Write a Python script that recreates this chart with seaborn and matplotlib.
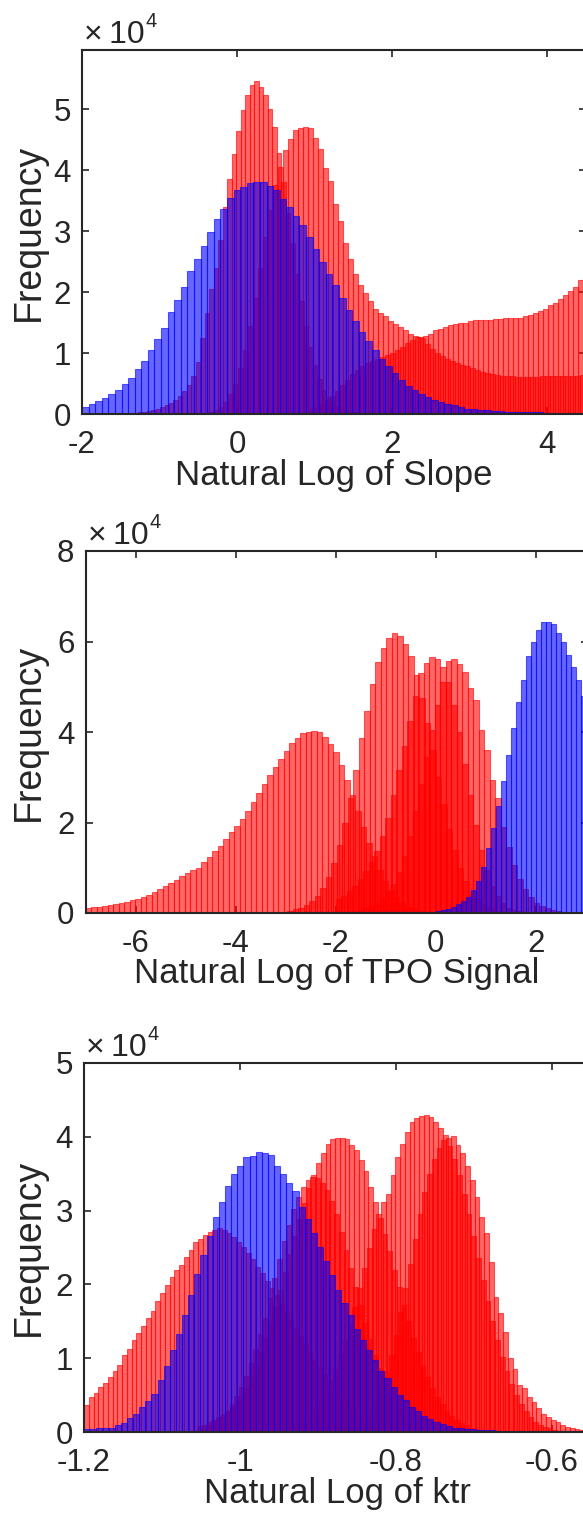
import numpy as np
import pandas as pd
import matplotlib
matplotlib.use("Agg")
import matplotlib.pyplot as plt
import matplotlib.transforms as mtransforms
from matplotlib.colors import to_rgba
import seaborn as sns

# ---------------- data: histogram counts in units of 10^4 ----------------
# Panel 1 : natural log of slope
SLOPE_BLUE_BINS = (-2.0, 0.085)          # (first edge, bin width)
SLOPE_BLUE = [0.11, 0.17, 0.21, 0.26, 0.32, 0.40, 0.49, 0.59, 0.73, 0.87,
              1.05, 1.23, 1.41, 1.67, 1.87, 2.08, 2.34, 2.55, 2.76, 2.98,
              3.20, 3.36, 3.54, 3.68, 3.72, 3.79, 3.80, 3.80, 3.74, 3.67,
              3.53, 3.40, 3.24, 3.10, 2.90, 2.70, 2.50, 2.30, 2.11, 1.90,
              1.71, 1.52, 1.34, 1.20, 1.05, 0.91, 0.79, 0.67, 0.56, 0.46,
              0.40, 0.33, 0.28, 0.23, 0.20, 0.16, 0.14, 0.11, 0.09, 0.08,
              0.07, 0.06, 0.05, 0.05, 0.04, 0.04, 0.03, 0.03, 0.03, 0.03,
              0.02, 0.02, 0.02, 0.02, 0.02, 0.02, 0.02]
SLOPE_RED_A_BINS = (-1.4, 0.058)
SLOPE_RED_A = [0.01, 0.02, 0.03, 0.04, 0.05, 0.07, 0.09, 0.11, 0.14, 0.18,
               0.23, 0.29, 0.37, 0.48, 0.62, 0.85, 1.25, 1.65, 2.05, 2.40,
               2.85, 3.40, 3.85, 4.27, 4.64, 4.99, 5.24, 5.39, 5.46, 5.36,
               5.24, 5.01, 4.71, 4.28, 3.80, 3.30, 2.80, 2.30, 1.85, 1.45,
               1.10, 0.80, 0.58, 0.40, 0.28, 0.19, 0.13, 0.09, 0.06, 0.04,
               0.03, 0.02, 0.02, 0.01, 0.01]
SLOPE_RED_B_BINS = (-0.5, 0.0645)
SLOPE_RED_B = [0.01, 0.02, 0.04, 0.07, 0.12, 0.20, 0.32, 0.50, 0.75, 1.05,
               1.45, 1.90, 2.40, 2.90, 3.35, 3.75, 4.05, 4.33, 4.51, 4.66,
               4.69, 4.70, 4.69, 4.52, 4.34, 4.04, 3.82, 3.45, 3.16, 2.81,
               2.54, 2.30, 2.12, 1.98, 1.85, 1.73, 1.65, 1.60, 1.52, 1.47,
               1.42, 1.38, 1.32, 1.28, 1.26, 1.28, 1.32, 1.37, 1.39, 1.43,
               1.46, 1.47, 1.49, 1.50, 1.52, 1.54, 1.54, 1.54, 1.54, 1.55,
               1.56, 1.58, 1.58, 1.58, 1.58, 1.60, 1.62, 1.65, 1.69, 1.73,
               1.78, 1.82, 1.89, 1.95, 2.02, 2.09, 2.20, 2.25]
SLOPE_RED_C_BINS = (0.87, 0.0645)
SLOPE_RED_C = [0.05, 0.08, 0.12, 0.17, 0.23, 0.30, 0.38, 0.47, 0.56, 0.65,
               0.72, 0.78, 0.83, 0.87, 0.90, 0.93, 0.96, 1.00, 1.05, 1.10,
               1.16, 1.22, 1.26, 1.24, 1.15, 1.06, 1.00, 0.95, 0.91, 0.87,
               0.83, 0.80, 0.78, 0.75, 0.72, 0.69, 0.68, 0.66, 0.64, 0.62,
               0.62, 0.62, 0.61, 0.61, 0.61, 0.61, 0.61, 0.62, 0.62, 0.62,
               0.62, 0.62, 0.62, 0.62, 0.63, 0.64, 0.67, 0.70]

# Panel 2 : natural log of TPO signal
TPO_RED_1_BINS = (-7.0, 0.11)
TPO_RED_1 = [0.12, 0.13, 0.14, 0.16, 0.18, 0.20, 0.22, 0.25, 0.28, 0.31,
             0.35, 0.40, 0.46, 0.52, 0.59, 0.66, 0.74, 0.81, 0.88, 0.94,
             1.00, 1.13, 1.24, 1.37, 1.48, 1.63, 1.79, 1.93, 2.08, 2.26,
             2.46, 2.66, 2.84, 3.04, 3.22, 3.41, 3.59, 3.76, 3.87, 3.98,
             4.00, 4.03, 4.00, 3.88, 3.73, 3.55, 3.26, 2.93, 2.60, 2.25,
             1.90, 1.55, 1.25, 0.95, 0.70, 0.50, 0.35, 0.24, 0.16, 0.10,
             0.07, 0.05, 0.03, 0.02, 0.01]
TPO_RED_2_BINS = (-2.97, 0.11)
TPO_RED_2 = [0.05, 0.08, 0.12, 0.18, 0.26, 0.38, 0.55, 0.80, 1.10, 1.50,
             2.00, 2.55, 3.16, 3.86, 4.47, 5.05, 5.54, 5.86, 6.07, 6.18,
             6.12, 5.94, 5.67, 5.26, 4.75, 4.20, 3.60, 3.00, 2.40, 1.85,
             1.40, 1.00, 0.70, 0.47, 0.31, 0.20, 0.13, 0.08, 0.05, 0.03,
             0.02]
TPO_RED_3_BINS = (-2.0, 0.11)
TPO_RED_3 = [0.30, 0.38, 0.48, 0.60, 0.75, 0.92, 1.12, 1.38, 1.70, 2.10,
             2.60, 3.15, 3.70, 4.25, 4.80, 5.30, 5.52, 5.66, 5.61, 5.44,
             5.10, 4.60, 4.00, 3.30, 2.60, 1.95, 1.40, 0.95, 0.60, 0.37,
             0.22, 0.12, 0.07, 0.04, 0.02]
TPO_RED_4_BINS = (-1.67, 0.11)
TPO_RED_4 = [0.05, 0.07, 0.10, 0.15, 0.22, 0.32, 0.46, 0.65, 0.90, 1.25,
             1.70, 2.25, 2.85, 3.45, 4.05, 4.60, 5.10, 5.57, 5.61, 5.50,
             5.33, 4.97, 4.70, 4.04, 3.60, 2.94, 2.54, 1.90, 1.45, 1.05,
             0.75, 0.52, 0.35, 0.23, 0.15, 0.10, 0.06, 0.04, 0.02, 0.01]
TPO_BLUE_BINS = (-7.0, 0.1)
TPO_BLUE = [0.01, 0.01, 0.01, 0.01, 0.01, 0.01, 0.01, 0.01, 0.01, 0.01,
            0.01, 0.01, 0.01, 0.01, 0.01, 0.01, 0.01, 0.01, 0.01, 0.01,
            0.01, 0.01, 0.01, 0.01, 0.01, 0.01, 0.01, 0.01, 0.01, 0.01,
            0.01, 0.01, 0.01, 0.01, 0.01, 0.01, 0.01, 0.01, 0.01, 0.01,
            0.015, 0.015, 0.015, 0.015, 0.015, 0.015, 0.015, 0.015, 0.015, 0.015,
            0.015, 0.015, 0.015, 0.015, 0.015, 0.015, 0.015, 0.015, 0.015, 0.015,
            0.02, 0.02, 0.02, 0.02, 0.02, 0.02, 0.03, 0.03, 0.03, 0.03,
            0.04, 0.06, 0.09, 0.13, 0.19, 0.26, 0.36, 0.50, 0.70, 1.02,
            1.43, 1.88, 2.37, 2.92, 3.49, 4.09, 4.67, 5.15, 5.67, 6.00,
            6.25, 6.43, 6.44, 6.39, 6.19, 6.00, 5.70, 5.44, 5.15, 4.80,
            4.45]

# Panel 3 : natural log of ktr
KTR_BLUE_BINS = (-1.2, 0.00786)
KTR_BLUE = [0.04, 0.04, 0.05, 0.05, 0.06, 0.09, 0.12, 0.19, 0.25, 0.34,
            0.42, 0.52, 0.71, 0.89, 1.11, 1.33, 1.59, 1.86, 2.14, 2.40,
            2.65, 2.92, 3.11, 3.33, 3.50, 3.60, 3.72, 3.74, 3.79, 3.78,
            3.75, 3.60, 3.49, 3.38, 3.26, 3.05, 2.89, 2.69, 2.51, 2.32,
            2.13, 1.92, 1.75, 1.59, 1.40, 1.25, 1.11, 0.97, 0.83, 0.73,
            0.61, 0.50, 0.43, 0.34, 0.28, 0.22, 0.17, 0.13, 0.11, 0.08,
            0.06, 0.05, 0.04, 0.04, 0.03, 0.03, 0.03, 0.02, 0.02, 0.02,
            0.02, 0.02, 0.02, 0.01, 0.01, 0.01, 0.01, 0.01, 0.01, 0.01,
            0.01, 0.01, 0.01, 0.01]
KTR_RED_1_BINS = (-1.2, 0.0061)
KTR_RED_1 = [0.37, 0.47, 0.53, 0.61, 0.67, 0.75, 0.83, 0.91, 1.04, 1.13,
             1.25, 1.34, 1.44, 1.54, 1.64, 1.78, 1.88, 1.99, 2.10, 2.19,
             2.26, 2.37, 2.47, 2.58, 2.62, 2.67, 2.71, 2.74, 2.76, 2.74,
             2.69, 2.64, 2.58, 2.51, 2.42, 2.34, 2.24, 2.15, 2.05, 1.95,
             1.85, 1.74, 1.63, 1.52, 1.41, 1.30, 1.19, 1.08, 0.98, 0.88,
             0.78, 0.69, 0.60, 0.52, 0.45, 0.38, 0.32, 0.27, 0.22, 0.18,
             0.15, 0.12, 0.10, 0.08, 0.06, 0.05, 0.04, 0.03, 0.03, 0.02,
             0.02, 0.01, 0.01]
KTR_RED_2_BINS = (-1.05, 0.0061)
KTR_RED_2 = [0.06, 0.09, 0.12, 0.16, 0.21, 0.29, 0.38, 0.49, 0.61, 0.76,
             0.93, 1.12, 1.33, 1.55, 1.82, 2.09, 2.34, 2.59, 2.81, 3.02,
             3.18, 3.32, 3.41, 3.45, 3.44, 3.38, 3.28, 3.13, 2.95, 2.71,
             2.47, 2.22, 1.96, 1.72, 1.48, 1.26, 1.05, 0.87, 0.71, 0.55,
             0.43, 0.34, 0.26, 0.19, 0.14, 0.11, 0.08, 0.05]
KTR_RED_3_BINS = (-1.055, 0.0061)
KTR_RED_3 = [0.08, 0.10, 0.13, 0.16, 0.20, 0.24, 0.29, 0.34, 0.40,
             0.48, 0.60, 0.74, 0.90, 1.08, 1.27, 1.48, 1.70, 1.93, 2.17,
             2.41, 2.65, 2.88, 3.10, 3.30, 3.48, 3.64, 3.78, 3.90, 3.97,
             3.98, 3.98, 3.97, 3.89, 3.82, 3.69, 3.53, 3.32, 3.12, 2.90,
             2.68, 2.45, 2.20, 1.96, 1.72, 1.50, 1.28, 1.08, 0.90, 0.74,
             0.60, 0.48, 0.38, 0.29, 0.22, 0.16, 0.12, 0.09, 0.06, 0.04,
             0.03, 0.02]
KTR_RED_4_BINS = (-0.9412, 0.0061)
KTR_RED_4 = [0.05, 0.07, 0.10, 0.14, 0.19, 0.26, 0.34, 0.44, 0.56, 0.70,
             0.86, 1.04, 1.24, 1.46, 1.70, 1.95, 2.22, 2.50, 2.75, 2.95,
             3.12, 3.23, 3.48, 3.73, 3.90, 4.07, 4.20, 4.26, 4.28, 4.29,
             4.27, 4.20, 4.12, 4.02, 3.88, 3.70, 3.48, 3.22, 2.95, 2.66,
             2.36, 2.06, 1.77, 1.50, 1.25, 1.02, 0.82, 0.65, 0.50, 0.38,
             0.28, 0.20, 0.14, 0.10, 0.07, 0.05, 0.03, 0.02]
KTR_RED_5_BINS = (-0.87, 0.0061)
KTR_RED_5 = [0.03, 0.05, 0.07, 0.11, 0.16, 0.23, 0.33, 0.46, 0.62, 0.82,
             1.05, 1.32, 1.62, 1.95, 2.28, 2.62, 2.95, 3.25, 3.50, 3.70,
             3.85, 3.95, 3.99, 4.01, 3.89, 3.78, 3.60, 3.41, 3.19, 2.92,
             2.69, 2.31, 1.83, 1.61, 1.36, 1.00, 0.86, 0.64, 0.59, 0.48,
             0.41, 0.32, 0.25, 0.21, 0.16, 0.13, 0.09, 0.07, 0.05, 0.04,
             0.03, 0.03, 0.02, 0.02]

X_LABELS = ["Natural Log of Slope", "Natural Log of TPO Signal", "Natural Log of ktr"]
Y_LABEL = "Frequency"
X_TICKS = [[-2, 0, 2, 4], [-6, -4, -2, 0, 2], [-1.2, -1.0, -0.8, -0.6]]
X_TICK_LABELS = [["-2", "0", "2", "4"], ["-6", "-4", "-2", "0", "2"],
                 ["-1.2", "-1", "-0.8", "-0.6"]]
Y_TICKS = [[0, 1, 2, 3, 4, 5], [0, 2, 4, 6, 8], [0, 1, 2, 3, 4, 5]]
X_LIMS = [(-2.0, 4.5), (-7.0, 3.04), (-1.2, -0.55)]
Y_LIMS = [(0, 5.97), (0, 8), (0, 5)]
MULTIPLIER_BASE, MULTIPLIER_EXP = "\u00d710", "4"

# ---------------- style ----------------
RED = "#ff0000"
BLUE = "#0000ff"
TEXT = "#262626"
W, H = 583, 1513
DPI = 100

sns.set_theme(style="white")
plt.rcParams["font.family"] = ["Liberation Sans", "DejaVu Sans"]
plt.rcParams["axes.unicode_minus"] = False

fig = plt.figure(figsize=(W / DPI, H / DPI), dpi=DPI)
fig.patch.set_facecolor("white")

# axes boxes in pixels: (left, top, right, bottom)
BOXES = [(82, 50, 586, 414), (85.5, 551, 588, 913), (84, 1063, 591, 1432)]


def draw_hist(ax, bins, counts, color):
    start, width = bins
    counts = np.asarray(counts, dtype=float)
    edges = start + width * np.arange(len(counts) + 1)
    df = pd.DataFrame({"value": 0.5 * (edges[:-1] + edges[1:]),
                       "count": counts})
    sns.histplot(data=df, x="value", weights="count", bins=edges.tolist(),
                 ax=ax, element="bars", fill=True, color=color, alpha=0.6,
                 edgecolor=to_rgba(color, 0.6), linewidth=0.8)


PANELS = [
    [(SLOPE_RED_A_BINS, SLOPE_RED_A), (SLOPE_RED_B_BINS, SLOPE_RED_B),
     (SLOPE_RED_C_BINS, SLOPE_RED_C)],
    [(TPO_RED_1_BINS, TPO_RED_1), (TPO_RED_2_BINS, TPO_RED_2),
     (TPO_RED_3_BINS, TPO_RED_3), (TPO_RED_4_BINS, TPO_RED_4)],
    [(KTR_RED_1_BINS, KTR_RED_1), (KTR_RED_2_BINS, KTR_RED_2),
     (KTR_RED_3_BINS, KTR_RED_3), (KTR_RED_4_BINS, KTR_RED_4),
     (KTR_RED_5_BINS, KTR_RED_5)],
]
BLUES = [(SLOPE_BLUE_BINS, SLOPE_BLUE), (TPO_BLUE_BINS, TPO_BLUE),
         (KTR_BLUE_BINS, KTR_BLUE)]

base_texts = []
for k in range(3):
    l, t, r, b = BOXES[k]
    ax = fig.add_axes([l / W, 1 - b / H, (r - l) / W, (b - t) / H])
    ax.set_facecolor("white")
    for bins, counts in PANELS[k]:
        draw_hist(ax, bins, counts, RED)
    draw_hist(ax, BLUES[k][0], BLUES[k][1], BLUE)

    ax.set_xlim(*X_LIMS[k])
    ax.set_ylim(*Y_LIMS[k])
    ax.set_xticks(X_TICKS[k])
    ax.set_xticklabels(X_TICK_LABELS[k])
    ax.set_yticks(Y_TICKS[k])
    ax.set_yticklabels([str(v) for v in Y_TICKS[k]])
    ax.grid(False)

    for sp in ax.spines.values():
        sp.set_visible(True)
        sp.set_color(TEXT)
        sp.set_linewidth(1.5)
        sp.set_zorder(5)
    ax.tick_params(direction="in", length=4.7, width=1.2, colors=TEXT,
                   top=True, right=True, bottom=True, left=True,
                   labelsize=22.5)
    ax.tick_params(axis="x", pad=11.5)
    ax.tick_params(axis="y", pad=8)

    wpx, hpx = r - l, b - t
    ax.set_xlabel(X_LABELS[k], fontsize=25, color=TEXT)
    ax.xaxis.set_label_coords(0.5, -61 / hpx)
    ax.xaxis.label.set_verticalalignment("center")
    ax.set_ylabel(Y_LABEL, fontsize=27, color=TEXT)
    ax.yaxis.set_label_coords(-(l - 29) / wpx, 0.5)
    ax.yaxis.label.set_verticalalignment("center")

    off = mtransforms.offset_copy(ax.transAxes, fig=fig, x=2, y=7, units="dots")
    bt = ax.text(0, 1, MULTIPLIER_BASE.replace("\u00d7", "\u00d7\u2009"),
                 transform=off, fontsize=23, color=TEXT,
                 ha="left", va="baseline")
    base_texts.append((ax, bt))

fig.canvas.draw()
renderer = fig.canvas.get_renderer()
for ax, bt in base_texts:
    bb = bt.get_window_extent(renderer)
    x_ax, _ = ax.transAxes.inverted().transform((bb.x1 + 1, bb.y0))
    off = mtransforms.offset_copy(ax.transAxes, fig=fig, x=0, y=7 + 16,
                                  units="dots")
    ax.text(x_ax, 1, MULTIPLIER_EXP, transform=off, fontsize=14.5,
            color=TEXT, ha="left", va="baseline")

fig.savefig("out.png", dpi=DPI)
